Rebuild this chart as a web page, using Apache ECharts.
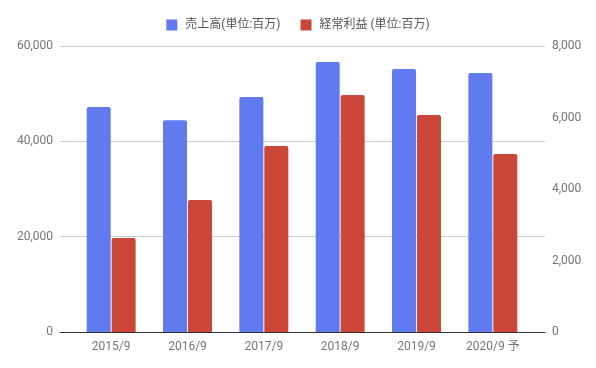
<!DOCTYPE html>
<html><head><meta charset="utf-8">
<script src="https://cdn.jsdelivr.net/npm/echarts@6/dist/echarts.min.js"></script>
<style>html,body{margin:0;padding:0;background:#fff}#c{width:596px;height:368px}</style>
</head><body><div id="c"></div>
<script>
const categories = ['2015/9','2016/9','2017/9','2018/9','2019/9','2020/9 予'];
const salesName = '売上高(単位:百万)';
const profitName = '経常利益 (単位:百万)';
const sales = [47200, 44400, 49300, 56650, 55200, 54350];
const profit = [2630, 3690, 5200, 6630, 6070, 4980];
const leftTicks = [0, 20000, 40000, 60000];
const rightTicks = [0, 2000, 4000, 6000, 8000];

const font = "Roboto, 'Noto Sans CJK JP', sans-serif";
const chart = echarts.init(document.getElementById('c'), null, {renderer:'canvas'});
chart.setOption({
  animation: false,
  textStyle: {fontFamily: font},
  legend: {
    top: 14, left: 'center', itemWidth: 11, itemHeight: 11, itemGap: 20,
    icon: 'rect',
    textStyle: {fontFamily: font, fontSize: 12, color: '#555', padding: [0, 0, 0, 3]},
    data: [salesName, profitName]
  },
  grid: [
    {left: 60, right: 51, top: 46, bottom: 36},
    {left: 73, right: 65, top: 46, bottom: 36}
  ],
  xAxis: [
    {gridIndex: 0, type: 'value', min: 0, max: 1, axisLine: {show: true, onZero: false, lineStyle: {color: '#333', width: 1}},
     axisTick: {show: false}, axisLabel: {show: false}, splitLine: {show: false}},
    {gridIndex: 1, type: 'category', data: categories, axisLine: {show: false}, axisTick: {show: false},
     axisLabel: {color: '#757575', fontSize: 12, margin: 9, fontFamily: font}}
  ],
  yAxis: [
    {gridIndex: 0, type: 'value', min: leftTicks[0], max: leftTicks[leftTicks.length-1], interval: 20000,
     axisLine: {show: false}, axisTick: {show: false},
     axisLabel: {color: '#757575', fontSize: 12, margin: 7, formatter: v => v.toLocaleString('en-US')},
     splitLine: {lineStyle: {color: '#ccc', width: 1}}},
    {gridIndex: 0, type: 'value', position: 'right', min: rightTicks[0], max: rightTicks[rightTicks.length-1], interval: 2000,
     axisLine: {show: false}, axisTick: {show: false},
     axisLabel: {color: '#757575', fontSize: 12, margin: 7, formatter: v => v.toLocaleString('en-US')},
     splitLine: {show: false}},
    {gridIndex: 1, type: 'value', min: 0, max: 60000, show: false},
    {gridIndex: 1, type: 'value', min: 0, max: 8000, show: false}
  ],
  series: [
    {name: salesName, type: 'bar', xAxisIndex: 1, yAxisIndex: 2, data: sales, barWidth: 24, barGap: '4%',
     itemStyle: {color: '#607bf0', borderRadius: [2,2,0,0]}},
    {name: profitName, type: 'bar', xAxisIndex: 1, yAxisIndex: 3, data: profit, barWidth: 24, barGap: '4%',
     itemStyle: {color: '#cc4539', borderRadius: [2,2,0,0]}}
  ]
});
</script></body></html>
